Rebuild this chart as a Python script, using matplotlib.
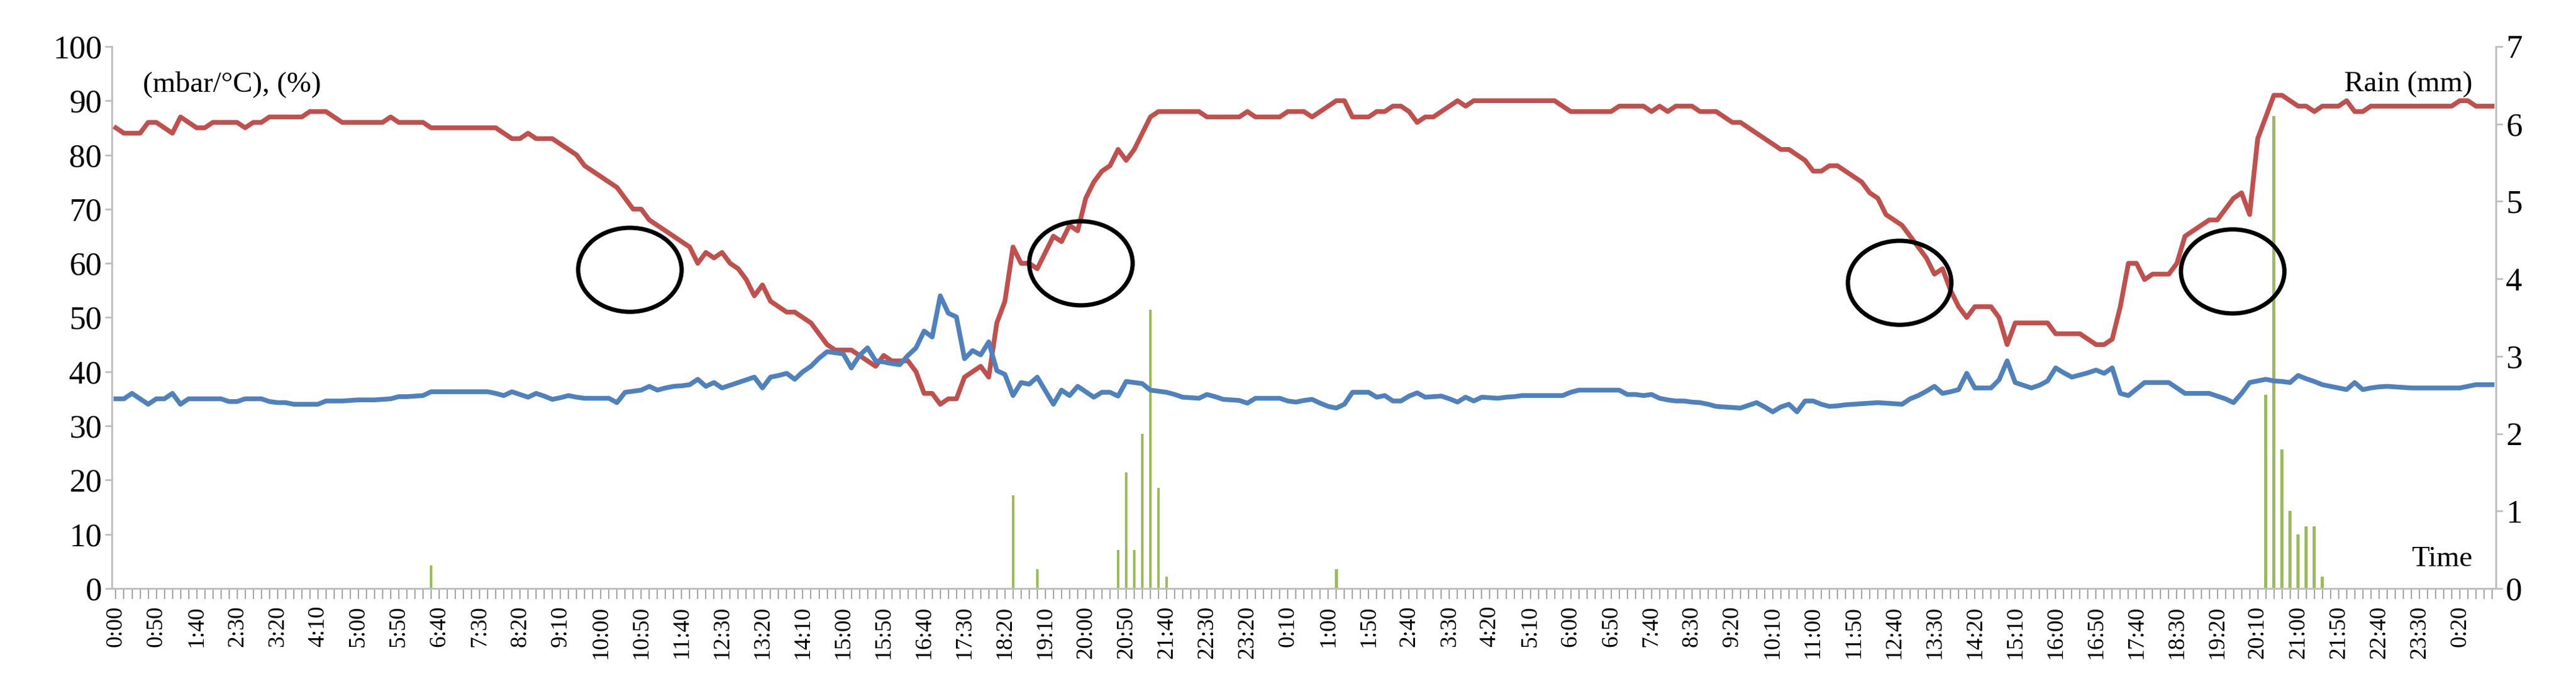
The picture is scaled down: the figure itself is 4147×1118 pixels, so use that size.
import matplotlib
matplotlib.use("Agg")
import matplotlib.pyplot as plt
from matplotlib.patches import Ellipse
import numpy as np

plt.rcParams['font.family'] = ['Liberation Serif', 'DejaVu Serif']

# relative humidity (%) every 10 minutes
humidity = [
    85, 84, 84, 84, 86, 86, 85, 84, 87, 86,
    85, 85, 86, 86, 86, 86, 85, 86, 86, 87,
    87, 87, 87, 87, 88, 88, 88, 87, 86, 86,
    86, 86, 86, 86, 87, 86, 86, 86, 86, 85,
    85, 85, 85, 85, 85, 85, 85, 85, 84, 83,
    83, 84, 83, 83, 83, 82, 81, 80, 78, 77,
    76, 75, 74, 72, 70, 70, 68, 67, 66, 65,
    64, 63, 60, 62, 61, 62, 60, 59, 57, 54,
    56, 53, 52, 51, 51, 50, 49, 47, 45, 44,
    44, 44, 43, 42, 41, 43, 42, 42, 42, 40,
    36, 36, 34, 35, 35, 39, 40, 41, 39, 49,
    53, 63, 60, 60, 59, 62, 65, 64, 67, 66,
    72, 75, 77, 78, 81, 79, 81, 84, 87, 88,
    88, 88, 88, 88, 88, 87, 87, 87, 87, 87,
    88, 87, 87, 87, 87, 88, 88, 88, 87, 88,
    89, 90, 90, 87, 87, 87, 88, 88, 89, 89,
    88, 86, 87, 87, 88, 89, 90, 89, 90, 90,
    90, 90, 90, 90, 90, 90, 90, 90, 90, 89,
    88, 88, 88, 88, 88, 88, 89, 89, 89, 89,
    88, 89, 88, 89, 89, 89, 88, 88, 88, 87,
    86, 86, 85, 84, 83, 82, 81, 81, 80, 79,
    77, 77, 78, 78, 77, 76, 75, 73, 72, 69,
    68, 67, 65, 63, 61, 58, 59, 55, 52, 50,
    52, 52, 52, 50, 45, 49, 49, 49, 49, 49,
    47, 47, 47, 47, 46, 45, 45, 46, 52, 60,
    60, 57, 58, 58, 58, 60, 65, 66, 67, 68,
    68, 70, 72, 73, 69, 83, 87, 91, 91, 90,
    89, 89, 88, 89, 89, 89, 90, 88, 88, 89,
    89, 89, 89, 89, 89, 89, 89, 89, 89, 89,
    90, 90, 89, 89, 89,
]

# second series (mbar/°C)
pressure_temp = [
    35, 35, 36, 35, 34, 35, 35, 36, 34, 35,
    35, 35, 35, 35, 34.5, 34.5, 35, 35, 35, 34.5,
    34.3, 34.3, 34, 34, 34, 34, 34.6, 34.6, 34.6, 34.7,
    34.8, 34.8, 34.8, 34.9, 35, 35.4, 35.4, 35.5, 35.6, 36.3,
    36.3, 36.3, 36.3, 36.3, 36.3, 36.3, 36.3, 36, 35.6, 36.3,
    35.8, 35.3, 36, 35.5, 34.9, 35.2, 35.6, 35.3, 35.1, 35.1,
    35.1, 35.1, 34.3, 36.2, 36.4, 36.6, 37.3, 36.6, 37, 37.3,
    37.4, 37.6, 38.6, 37.3, 38, 37, 37.5, 38, 38.5, 39,
    37, 39, 39.3, 39.7, 38.6, 40, 41, 42.5, 43.7, 43.5,
    43.3, 40.7, 43, 44.4, 42, 41.8, 41.5, 41.3, 43, 44.4,
    47.5, 46.4, 54, 50.8, 50.1, 42.4, 43.9, 43.1, 45.5, 40.2,
    39.5, 35.6, 38, 37.7, 39, 36.5, 34, 36.6, 35.6, 37.3,
    36.3, 35.3, 36.2, 36.2, 35.5, 38.2, 38, 37.8, 36.6, 36.4,
    36.2, 35.8, 35.3, 35.2, 35.1, 35.8, 35.4, 34.9, 34.8, 34.7,
    34.2, 35.1, 35.1, 35.1, 35.1, 34.6, 34.4, 34.7, 34.9, 34.2,
    33.6, 33.3, 34, 36.2, 36.2, 36.2, 35.3, 35.6, 34.6, 34.6,
    35.5, 36.1, 35.3, 35.4, 35.5, 35, 34.4, 35.3, 34.6, 35.3,
    35.2, 35.1, 35.3, 35.4, 35.6, 35.6, 35.6, 35.6, 35.6, 35.6,
    36.2, 36.6, 36.6, 36.6, 36.6, 36.6, 36.6, 35.8, 35.8, 35.6,
    35.8, 35.1, 34.8, 34.6, 34.6, 34.4, 34.3, 34, 33.6, 33.5,
    33.4, 33.3, 33.8, 34.3, 33.5, 32.6, 33.5, 34, 32.6, 34.6,
    34.6, 34, 33.6, 33.7, 33.9, 34, 34.1, 34.2, 34.3, 34.2,
    34.1, 34, 35, 35.6, 36.4, 37.3, 36, 36.3, 36.7, 39.7,
    37, 37, 37, 38.5, 42, 38, 37.5, 37, 37.5, 38.3,
    40.7, 39.8, 39, 39.4, 39.8, 40.3, 39.7, 40.7, 36, 35.6,
    36.8, 38, 38, 38, 38, 37, 36, 36, 36, 36,
    35.5, 35, 34.3, 36, 38, 38.3, 38.6, 38.3, 38.2, 38,
    39.3, 38.7, 38.2, 37.6, 37.3, 37, 36.7, 38, 36.7, 37,
    37.2, 37.3, 37.2, 37.1, 37, 37, 37, 37, 37, 37,
    37, 37.3, 37.6, 37.6, 37.6,
]

# rain events: sample index and amount (mm)
rain_index = [39, 111, 114, 124, 125, 126, 127, 128, 129, 130, 151,
              266, 267, 268, 269, 270, 271, 272, 273]
rain_mm = [0.3, 1.2, 0.25, 0.5, 1.5, 0.5, 2.0, 3.6, 1.3, 0.15, 0.25,
           2.5, 6.1, 1.8, 1.0, 0.7, 0.8, 0.8, 0.15]

# labelled times (every 5th sample)
time_labels = [
    "0:00", "0:50", "1:40", "2:30", "3:20", "4:10", "5:00", "5:50", "6:40",
    "7:30", "8:20", "9:10", "10:00", "10:50", "11:40", "12:30", "13:20",
    "14:10", "15:00", "15:50", "16:40", "17:30", "18:20", "19:10", "20:00",
    "20:50", "21:40", "22:30", "23:20", "0:10", "1:00", "1:50", "2:40",
    "3:30", "4:20", "5:10", "6:00", "6:50", "7:40", "8:30", "9:20", "10:10",
    "11:00", "11:50", "12:40", "13:30", "14:20", "15:10", "16:00", "16:50",
    "17:40", "18:30", "19:20", "20:10", "21:00", "21:50", "22:40", "23:30",
    "0:20",
]

# marked periods (centre index, centre value)
circle_x = [63.6, 119.4, 220.7, 261.9]
circle_y = [58.8, 60.0, 56.4, 58.5]

fig = plt.figure(figsize=(41.47, 11.18), dpi=100)
ax = fig.add_axes([0.0434, 0.152, 0.9256, 0.781])
ax2 = ax.twinx()

x = np.arange(len(humidity))
ax2.bar(rain_index, rain_mm, width=0.35, color='#9BBB59', zorder=1)
ax.plot(x, humidity, color='#C0504D', lw=5.5, zorder=3)
ax.plot(np.arange(len(pressure_temp)), pressure_temp, color='#4F81BD', lw=5.5, zorder=3)
for cx, cy in zip(circle_x, circle_y):
    ax.add_patch(Ellipse((cx, cy), 12.8, 15.5, fill=False, edgecolor='black', lw=5, zorder=4))

ax.set_zorder(ax2.get_zorder() + 1)
ax.patch.set_visible(False)

ax.set_xlim(-0.5, len(humidity) - 0.5)
ax.set_ylim(0, 100)
ax2.set_ylim(0, 7)
ax.set_yticks(range(0, 101, 10))
ax2.set_yticks(range(0, 8))
ax.set_xticks(range(0, 5 * len(time_labels), 5))
ax.set_xticklabels(time_labels, rotation=90, fontsize=27)
ax.set_xticks(x, minor=True)

for a in (ax, ax2):
    a.spines['top'].set_visible(False)
    for s in ('left', 'right', 'bottom'):
        a.spines[s].set_color('#BFBFBF')
        a.spines[s].set_linewidth(2)
    a.tick_params(axis='y', labelsize=38, color='#BFBFBF', length=8, width=2)
ax.tick_params(axis='x', which='both', color='#A6A6A6', length=12, width=1.5, pad=8)

ax.text(0.013, 0.955, "(mbar/°C), (%)", transform=ax.transAxes, fontsize=34, va='top')
ax.text(0.99, 0.955, "Rain (mm)", transform=ax.transAxes, fontsize=34, va='top', ha='right')
ax.text(0.99, 0.03, "Time", transform=ax.transAxes, fontsize=34, va='bottom', ha='right')

fig.savefig("out.png", dpi=100)
